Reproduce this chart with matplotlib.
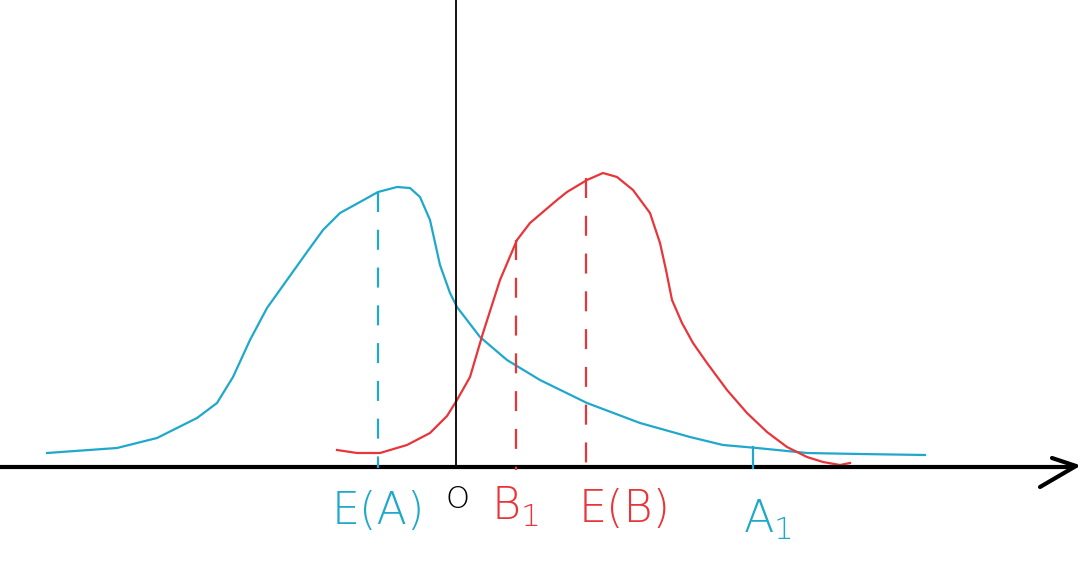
import numpy as np
import matplotlib
matplotlib.use('Agg')
import matplotlib.pyplot as plt

# sketch drawn in picture coordinates (x right, y down)
blue_x = [47, 117, 157, 197, 217, 233, 250, 267, 287, 307, 323, 340, 360, 378, 397, 410, 420, 430,
          440, 450, 457, 480, 507, 540, 587, 640, 690, 723, 757, 807, 860, 925]
blue_y = [453, 448, 438, 418, 403, 377, 340, 308, 280, 252, 230, 213, 202, 192, 187, 188, 197, 220,
          265, 293, 307, 337, 360, 380, 403, 423, 437, 445, 448, 453, 454, 455]

red_x = [337, 357, 380, 407, 430, 447, 457, 470, 483, 500, 517, 530, 557, 567, 587, 603, 617, 633,
         650, 660, 666, 672, 682, 693, 707, 727, 747, 767, 787, 807, 823, 840, 850]
red_y = [450, 453, 453, 445, 433, 416, 400, 377, 333, 280, 240, 223, 200, 192, 180, 173, 177, 190,
         213, 243, 270, 300, 323, 343, 363, 390, 413, 432, 447, 457, 462, 465, 463]

blue = '#1fa8cc'
red = '#e8353a'

fig = plt.figure(figsize=(10.8, 5.76), dpi=100)
ax = fig.add_axes([0, 0, 1, 1])
ax.set_xlim(0, 1080)
ax.set_ylim(576, 0)
ax.axis('off')

ax.plot(blue_x, blue_y, color=blue, lw=1.6, solid_joinstyle='round')
ax.plot(red_x, red_y, color=red, lw=1.6, solid_joinstyle='round')

# axes
ax.plot([456, 456], [0, 467], color='black', lw=1.3)
ax.plot([0, 1070], [467, 467], color='black', lw=3)
ax.plot([1040, 1076], [487, 466], color='black', lw=3, solid_capstyle='round')
ax.plot([1052, 1076], [458, 466], color='black', lw=3, solid_capstyle='round')

# guide lines
ax.plot([378, 378], [192, 468], color=blue, lw=1.6, dashes=(9, 8))
ax.plot([516, 516], [240, 470], color=red, lw=1.6, dashes=(9, 8))
ax.plot([586, 586], [178, 470], color=red, lw=1.6, dashes=(9, 8))
ax.plot([753, 753], [447, 468], color=blue, lw=1.6)

labels = [('E(A)', 378, 512, blue, 32), ('O', 457, 500, 'black', 22),
          (r'$\mathregular{B_1}$', 515, 507, red, 32),
          ('E(B)', 625, 510, red, 32), (r'$\mathregular{A_1}$', 767, 520, blue, 32)]
for txt, x, y, c, fs in labels:
    ax.text(x, y, txt, color=c, fontsize=fs, ha='center', va='center',
            family='DejaVu Sans', fontweight='light')

plt.savefig('out.png', dpi=100)
